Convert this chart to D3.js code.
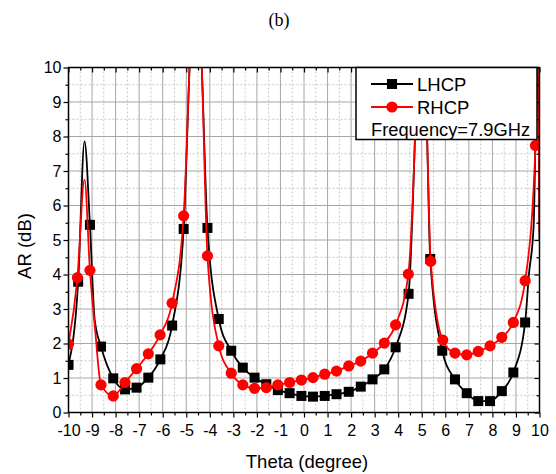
<!DOCTYPE html>
<html>
<head>
<meta charset="utf-8">
<script src="https://cdn.jsdelivr.net/npm/d3@7"></script>
<style>
  body { margin: 0; background: #fff; }
  svg text { font-family: "Liberation Sans", Arial, sans-serif; }
</style>
</head>
<body>
<svg id="chart" width="556" height="474"></svg>
<script>
var width = 556;
var height = 474;

// marker points
var lhcpTheta = [-10, -9.59, -9.09, -8.62, -8.10, -7.60, -7.11, -6.61, -6.10, -5.60, -5.11, -4.10, -3.62, -3.09, -2.60, -2.10, -1.60, -1.11, -0.61, -0.11, 0.38, 0.88, 1.38, 1.90, 2.41, 2.91, 3.41, 3.89, 4.44, 5.36, 5.87, 6.41, 6.91, 7.40, 7.90, 8.40, 8.89, 9.39];
var lhcpAR = [1.38, 3.79, 5.44, 1.91, 0.99, 0.67, 0.72, 1.01, 1.54, 2.52, 5.32, 5.35, 2.71, 1.79, 1.30, 1.01, 0.82, 0.65, 0.56, 0.48, 0.46, 0.48, 0.53, 0.60, 0.75, 0.96, 1.25, 1.89, 3.44, 4.45, 1.79, 0.96, 0.56, 0.33, 0.33, 0.62, 1.16, 2.61];

var rhcpTheta = [-10, -9.62, -9.09, -8.62, -8.10, -7.60, -7.11, -6.61, -6.11, -5.60, -5.11, -4.10, -3.62, -3.09, -2.60, -2.10, -1.60, -1.11, -0.61, -0.11, 0.38, 0.88, 1.38, 1.90, 2.41, 2.91, 3.41, 3.89, 4.43, 5.38, 5.89, 6.41, 6.91, 7.40, 7.90, 8.40, 8.89, 9.39, 9.83];
var rhcpAR = [1.98, 3.91, 4.12, 0.80, 0.48, 0.87, 1.27, 1.70, 2.25, 3.17, 5.70, 4.54, 1.93, 1.14, 0.80, 0.70, 0.72, 0.80, 0.87, 0.94, 1.01, 1.11, 1.20, 1.35, 1.49, 1.72, 2.01, 2.54, 4.01, 4.38, 2.10, 1.72, 1.67, 1.77, 1.93, 2.18, 2.61, 3.82, 7.74];

// extra curve points between markers (peaks, steep flanks)
var lhcpExtraTheta = [-9.32, -8.89, -4.86, -4.60, -4.34, 4.71, 4.95, 5.23, 9.55, 9.75, 9.92, 10];
var lhcpExtraAR = [7.86, 2.70, 10.0, 14.0, 10.0, 7.9, 14.0, 7.9, 4.0, 5.4, 10.5, 5.0];
var rhcpExtraTheta = [-9.32, -8.87, -4.86, -4.60, -4.34, 4.71, 4.95, 5.23, 9.92, 10];
var rhcpExtraAR = [6.75, 2.40, 10.0, 14.0, 10.0, 7.9, 14.0, 7.9, 10.5, 5.2];

var xTicks = d3.range(-10, 11, 1);
var yTicks = d3.range(0, 11, 1);

var pLeft = 68.5, pRight = 539.5, pTop = 67.5, pBottom = 412.5;

var x = d3.scaleLinear().domain([-10, 10]).range([pLeft, pRight]);
var y = d3.scaleLinear().domain([0, 10]).range([pBottom, pTop]);

var svg = d3.select("#chart");

svg.append("text")
  .attr("x", 279)
  .attr("y", 26)
  .style("font-family", "'Liberation Serif', 'Times New Roman', serif")
  .style("font-size", "18px")
  .style("text-anchor", "middle")
  .text("(b)");

svg.append("defs").append("clipPath")
  .attr("id", "plotclip")
  .append("rect")
  .attr("x", pLeft)
  .attr("y", pTop)
  .attr("width", pRight - pLeft)
  .attr("height", pBottom - pTop);

// grid
var xMinor = d3.range(-9.5, 10, 1);
var yMinor = d3.range(0.5, 10, 1);

var grid = svg.append("g");
grid.selectAll(".vminor").data(xMinor).enter().append("line")
  .attr("x1", function(d) { return x(d); }).attr("x2", function(d) { return x(d); })
  .attr("y1", pTop).attr("y2", pBottom)
  .style("stroke", "#c8c8c8").style("stroke-dasharray", "2,2");
grid.selectAll(".hminor").data(yMinor).enter().append("line")
  .attr("y1", function(d) { return y(d); }).attr("y2", function(d) { return y(d); })
  .attr("x1", pLeft).attr("x2", pRight)
  .style("stroke", "#c8c8c8").style("stroke-dasharray", "2,2");
grid.selectAll(".vmajor").data(xTicks.slice(1, -1)).enter().append("line")
  .attr("x1", function(d) { return x(d); }).attr("x2", function(d) { return x(d); })
  .attr("y1", pTop).attr("y2", pBottom)
  .style("stroke", "#a6a6a6");
grid.selectAll(".hmajor").data(yTicks.slice(1, -1)).enter().append("line")
  .attr("y1", function(d) { return y(d); }).attr("y2", function(d) { return y(d); })
  .attr("x1", pLeft).attr("x2", pRight)
  .style("stroke", "#a6a6a6");

function mergePoints(t1, a1, t2, a2) {
  var pts = t1.map(function(t, i) { return [t, a1[i]]; })
    .concat(t2.map(function(t, i) { return [t, a2[i]]; }));
  return pts.sort(function(a, b) { return a[0] - b[0]; });
}

var line = d3.line()
  .x(function(d) { return x(d[0]); })
  .y(function(d) { return y(d[1]); })
  .curve(d3.curveMonotoneX);

var plot = svg.append("g").attr("clip-path", "url(#plotclip)");

var series = [
  { name: "LHCP", color: "#000000", theta: lhcpTheta, ar: lhcpAR, et: lhcpExtraTheta, ea: lhcpExtraAR, shape: "square" },
  { name: "RHCP", color: "#ff0000", theta: rhcpTheta, ar: rhcpAR, et: rhcpExtraTheta, ea: rhcpExtraAR, shape: "circle" }
];

series.forEach(function(s) {
  plot.append("path")
    .datum(mergePoints(s.theta, s.ar, s.et, s.ea))
    .attr("d", line)
    .style("fill", "none")
    .style("stroke", s.color)
    .style("stroke-width", 1.8);

  var pts = s.theta.map(function(t, i) { return [t, s.ar[i]]; });
  if (s.shape == "square") {
    plot.selectAll(".sq").data(pts).enter().append("rect")
      .attr("x", function(d) { return x(d[0]) - 5; })
      .attr("y", function(d) { return y(d[1]) - 5; })
      .attr("width", 10)
      .attr("height", 10)
      .style("fill", s.color);
  } else {
    plot.selectAll(".ci").data(pts).enter().append("circle")
      .attr("cx", function(d) { return x(d[0]); })
      .attr("cy", function(d) { return y(d[1]); })
      .attr("r", 5.6)
      .style("fill", s.color);
  }
});

// axes
function styleAxis(g) {
  g.select(".domain").remove();
  g.selectAll("line").style("stroke", "#000").style("stroke-width", 1.2);
  g.selectAll("text")
    .style("font-family", "'Liberation Sans', Arial, sans-serif")
    .style("font-size", "16px")
    .style("fill", "#000");
}

var plainFmt = function(d) { return String(d); };

var xAxis = d3.axisBottom(x).tickValues(xTicks).tickSize(5).tickPadding(7).tickFormat(plainFmt);
var xAxisMinor = d3.axisBottom(x).tickValues(xMinor).tickSize(3).tickFormat("");
var yAxis = d3.axisLeft(y).tickValues(yTicks).tickSize(5).tickPadding(2).tickFormat(plainFmt);
var yAxisMinor = d3.axisLeft(y).tickValues(yMinor).tickSize(3).tickFormat("");

svg.append("g").attr("transform", "translate(0," + pBottom + ")").call(xAxis).call(styleAxis);
svg.append("g").attr("transform", "translate(0," + pBottom + ")").call(xAxisMinor).call(styleAxis);
svg.append("g").attr("transform", "translate(" + pLeft + ",0)").call(yAxis).call(styleAxis);
svg.append("g").attr("transform", "translate(" + pLeft + ",0)").call(yAxisMinor).call(styleAxis);

svg.append("g").attr("transform", "translate(0," + pTop + ")")
  .call(d3.axisTop(x).tickValues(xTicks).tickSize(-5).tickFormat("")).call(styleAxis);
svg.append("g").attr("transform", "translate(0," + pTop + ")")
  .call(d3.axisTop(x).tickValues(xMinor).tickSize(-3).tickFormat("")).call(styleAxis);
svg.append("g").attr("transform", "translate(" + pRight + ",0)")
  .call(d3.axisRight(y).tickValues(yTicks).tickSize(-5).tickFormat("")).call(styleAxis);
svg.append("g").attr("transform", "translate(" + pRight + ",0)")
  .call(d3.axisRight(y).tickValues(yMinor).tickSize(-3).tickFormat("")).call(styleAxis);

svg.append("rect")
  .attr("x", pLeft).attr("y", pTop)
  .attr("width", pRight - pLeft).attr("height", pBottom - pTop)
  .style("fill", "none").style("stroke", "#000").style("stroke-width", 1.5);

// legend
var legend = svg.append("g");
legend.append("rect")
  .attr("x", 356).attr("y", pTop)
  .attr("width", 181).attr("height", 72)
  .style("fill", "#fff").style("stroke", "#000").style("stroke-width", 1.5);

series.forEach(function(s, i) {
  var ly = 84 + i * 23;
  legend.append("line")
    .attr("x1", 371).attr("x2", 413).attr("y1", ly).attr("y2", ly)
    .style("stroke", s.color).style("stroke-width", 1.8);
  if (s.shape == "square") {
    legend.append("rect").attr("x", 387).attr("y", ly - 5).attr("width", 10).attr("height", 10).style("fill", s.color);
  } else {
    legend.append("circle").attr("cx", 392).attr("cy", ly).attr("r", 5.6).style("fill", s.color);
  }
  legend.append("text")
    .attr("x", 417).attr("y", ly + 7)
    .style("font-size", "18.5px")
    .text(s.name);
});

legend.append("text")
  .attr("x", 371).attr("y", 136)
  .style("font-size", "18.3px")
  .text("Frequency=7.9GHz");

svg.append("text")
  .attr("x", (pLeft + pRight) / 2 + 3)
  .attr("y", 468)
  .style("font-size", "18.5px")
  .style("text-anchor", "middle")
  .text("Theta (degree)");

svg.append("text")
  .attr("transform", "translate(31," + 246 + ") rotate(-90)")
  .style("font-size", "18.5px")
  .style("text-anchor", "middle")
  .text("AR (dB)");
</script>
</body>
</html>
